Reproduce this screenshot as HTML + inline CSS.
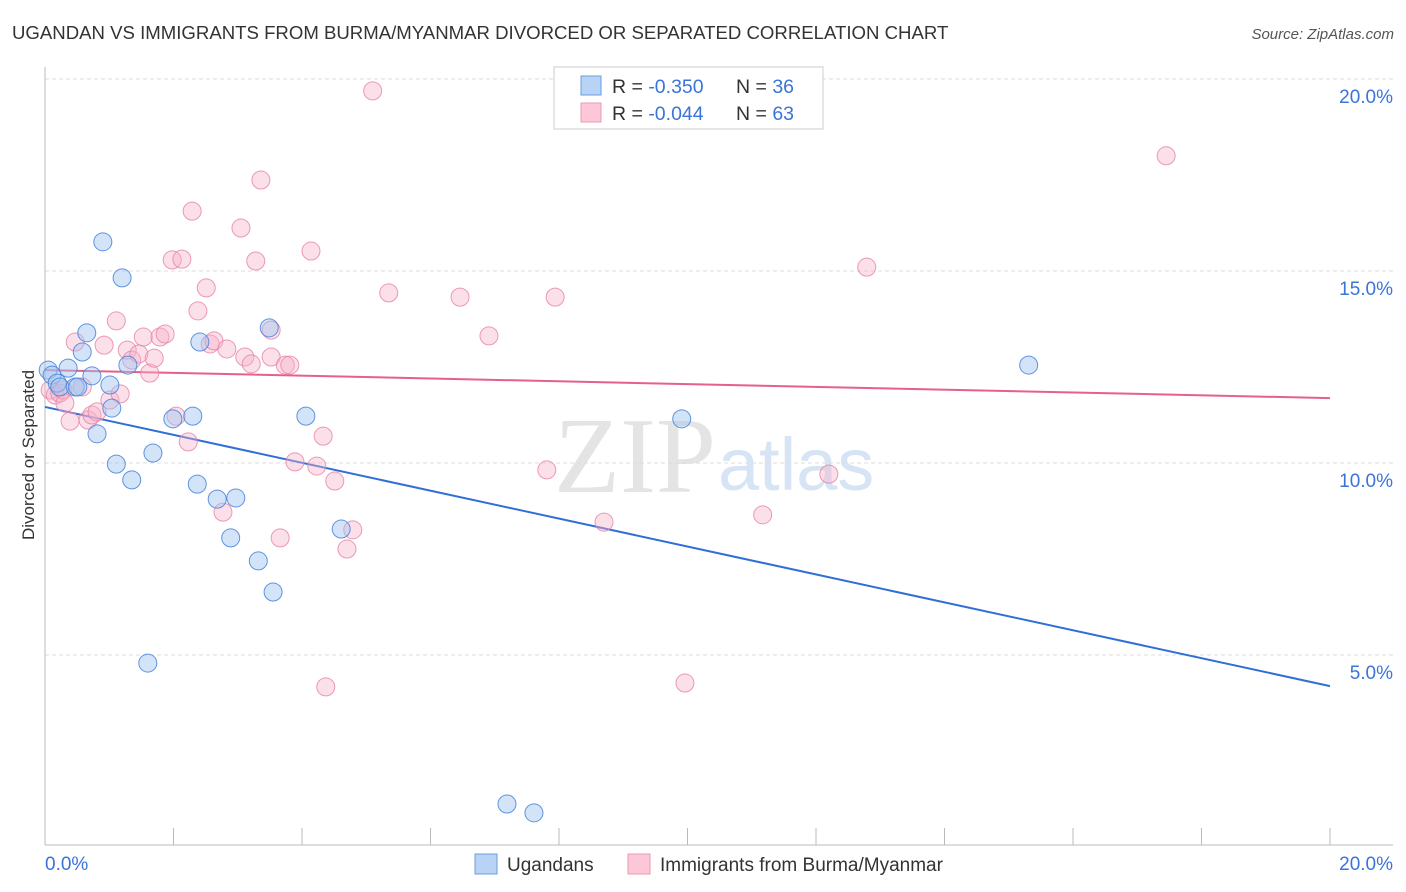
<!DOCTYPE html>
<html><head><meta charset="utf-8"><style>
body{margin:0;background:#fff;font-family:"Liberation Sans",sans-serif;}
#wrap{position:relative;width:1406px;height:892px;overflow:hidden;}
</style></head><body>
<div id="wrap">
<svg id="chart" width="1406" height="892" xmlns="http://www.w3.org/2000/svg">
<text x="12" y="39" font-size="18.6" fill="#333">UGANDAN VS IMMIGRANTS FROM BURMA/MYANMAR DIVORCED OR SEPARATED CORRELATION CHART</text>
<text x="1394" y="39" font-size="15" fill="#555" font-style="italic" text-anchor="end">Source: ZipAtlas.com</text>
<text x="716" y="492" font-size="108" fill="#e4e4e4" text-anchor="end" font-family="Liberation Serif,serif">ZIP</text>
<text x="718" y="490" font-size="74" fill="#d6e4f5">atlas</text>
<text transform="translate(34,455) rotate(-90)" font-size="17" fill="#333" text-anchor="middle">Divorced or Separated</text>
<g id="grid"></g><g id="axes"></g><g id="lines"></g><g id="pts"></g>
<g>
<rect x="554" y="67" width="269" height="62" fill="#fff" stroke="#ccc"/>
<rect x="581" y="76" width="20" height="19" fill="#b8d3f5" stroke="#6a9de0"/>
<rect x="581" y="103" width="20" height="19" fill="#fcc8d8" stroke="#e89ab2"/>
<text x="612" y="93" font-size="19.5" fill="#333">R = <tspan fill="#3a74d8">-0.350</tspan></text>
<text x="736" y="93" font-size="19.5" fill="#333">N = <tspan fill="#3a74d8">36</tspan></text>
<text x="612" y="120" font-size="19.5" fill="#333">R = <tspan fill="#3a74d8">-0.044</tspan></text>
<text x="736" y="120" font-size="19.5" fill="#333">N = <tspan fill="#3a74d8">63</tspan></text>
</g>
<g>
<rect x="475" y="854" width="22" height="20" fill="#b8d3f5" stroke="#6a9de0"/>
<text x="507" y="871" font-size="19" fill="#333">Ugandans</text>
<rect x="628" y="854" width="22" height="20" fill="#fcc8d8" stroke="#e89ab2"/>
<text x="660" y="871" font-size="19" fill="#333">Immigrants from Burma/Myanmar</text>
</g>
</svg>
</div>
<script>
const xTickLabels=["0.0%","20.0%"];
const yTickValues=[5,10,15,20];
const yTickLabels=["5.0%","10.0%","15.0%","20.0%"];
const ugX=[0.05,0.11,0.19,0.23,0.36,0.47,0.51,0.58,0.65,0.73,0.81,0.90,1.01,1.04,1.11,1.20,1.29,1.35,1.60,1.68,1.99,2.30,2.37,2.41,2.68,2.89,2.97,3.32,3.49,3.55,4.06,4.61,7.19,7.61,9.91,15.31];
const ugY=[12.42,12.29,12.08,11.98,12.47,11.98,11.98,12.89,13.39,12.27,10.76,15.76,12.03,11.43,9.97,14.82,12.55,9.56,4.79,10.26,11.15,11.22,9.45,13.15,9.06,8.05,9.09,7.45,13.52,6.64,11.22,8.28,1.12,0.89,11.15,12.55];
const bmX=[0.08,0.16,0.23,0.28,0.31,0.39,0.47,0.58,0.67,0.73,0.81,0.92,1.01,1.11,1.17,1.28,1.35,1.46,1.53,1.63,1.70,1.79,1.87,1.98,2.04,2.13,2.23,2.29,2.38,2.51,2.57,2.63,2.77,2.83,3.05,3.11,3.21,3.28,3.36,3.52,3.52,3.66,3.74,3.81,3.89,4.14,4.23,4.33,4.37,4.51,4.70,4.79,5.10,5.35,6.46,6.91,7.81,7.94,8.70,9.96,11.17,12.20,12.79,17.45];
const bmY=[11.90,11.77,11.82,11.90,11.56,11.09,13.15,11.98,11.12,11.25,11.33,13.07,11.64,13.70,11.80,12.94,12.68,12.84,13.28,12.34,12.73,13.28,13.36,15.29,11.22,15.31,10.55,16.56,13.96,14.56,13.10,13.18,8.72,12.97,16.12,12.76,12.58,15.26,17.37,12.76,13.46,8.05,12.55,12.55,10.03,15.52,9.92,10.70,4.17,9.53,7.76,8.26,19.69,14.43,14.32,13.31,9.82,14.32,8.46,4.27,8.65,9.71,15.10,18.00];
const ugLine=[11.46,4.19];
const bmLine=[12.42,11.69];
const NS="http://www.w3.org/2000/svg";
const X0=45,X1=1330,Y0=847,PPU=38.4;
function sx(v){return X0+(X1-X0)*v/20;}
function sy(v){return Y0-v*PPU;}
function mk(tag,attrs,parent){const e=document.createElementNS(NS,tag);for(const k in attrs)e.setAttribute(k,attrs[k]);document.getElementById(parent).appendChild(e);return e;}
yTickValues.forEach((v,i)=>{
 const g=mk('line',{x1:X0,x2:1393,y1:sy(v),y2:sy(v),stroke:'#ddd','stroke-dasharray':'4,3'},'grid');
 
 
 const t=mk('text',{x:1393,y:sy(v)+24,'font-size':19,fill:'#3a74d8','text-anchor':'end'},'axes');
 t.textContent=yTickLabels[i];
 
 
});
const ax=mk('line',{x1:X0,x2:X0,y1:67,y2:845,stroke:'#bbb'},'axes');


const bx=mk('line',{x1:X0,x2:1393,y1:845,y2:845,stroke:'#bbb'},'axes');


for(let i=1;i<=10;i++){
 const t=mk('line',{x1:sx(i*2),x2:sx(i*2),y1:828,y2:845,stroke:'#bbb'},'axes');
 
 
}
[[0,'start',45],[1,'end',1393]].forEach(([i,a,x])=>{
 const t=mk('text',{x:x,y:870,'font-size':19,fill:'#3a74d8','text-anchor':a},'axes');
 t.textContent=xTickLabels[i];
 
 
});
function pts(xs,ys,fill,stroke,name){
 xs.forEach((x,i)=>{
  const c=mk('circle',{cx:sx(x),cy:sy(ys[i]),r:9,fill:fill,stroke:stroke,'stroke-width':1},'pts');
  
  
 });
}
pts(bmX,bmY,'rgba(248,178,200,0.4)','rgba(230,130,165,0.8)','burma-point');
pts(ugX,ugY,'rgba(160,196,240,0.45)','rgba(70,130,220,0.85)','ugandan-point');
const l1=mk('line',{x1:sx(0),y1:sy(ugLine[0]),x2:sx(20),y2:sy(ugLine[1]),stroke:'#2f6fd6','stroke-width':2},'lines');


const l2=mk('line',{x1:sx(0),y1:sy(bmLine[0]),x2:sx(20),y2:sy(bmLine[1]),stroke:'#e5608e','stroke-width':2},'lines');


</script>
</body></html>
